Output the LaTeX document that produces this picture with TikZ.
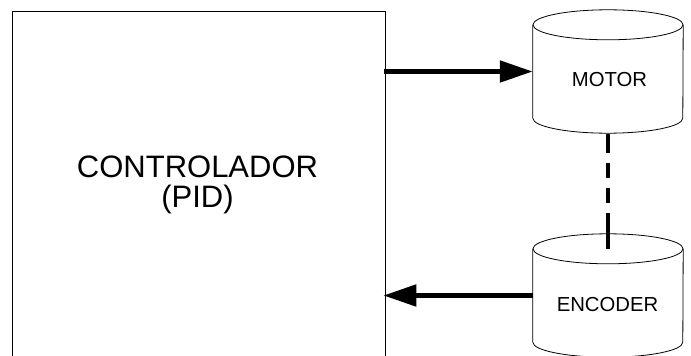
\documentclass[tikz,border=0pt]{standalone}
\usepackage{fontspec}
\setmainfont{Liberation Sans}
\usetikzlibrary{arrows.meta}
\begin{document}
\begin{tikzpicture}[x=1pt,y=-1pt,
  body/.style={draw=none, minimum width=150pt, minimum height=93pt, inner sep=0pt},
  cyl/.style={draw=black, line width=0.8pt, fill=white},
  flow/.style={line width=5pt, -{Triangle[length=33pt,width=21pt]}},
  link/.style={line width=4pt, dash pattern=on 19pt off 10pt on 15pt off 10pt on 15pt off 10pt on 40pt off 10pt},
  bigtext/.style={font=\fontsize{31}{29.5}\selectfont, inner sep=0pt},
  smalltext/.style={font=\fontsize{20.3}{24}\selectfont, inner sep=0pt}]
\clip (0,0) rectangle (691,356);
\fill[white] (0,0) rectangle (691,356);
% controller box (bottom edge lies below the picture)
\node[draw, line width=0.8pt, minimum width=372.5pt, minimum height=380pt, anchor=north west, inner sep=0pt] (ctrl) at (12,10.5) {};
\node[bigtext, anchor=base] (ctrlA) at (197.5,177) {CONTROLADOR};
\node[bigtext, anchor=base] (ctrlB) at (197.5,207) {(PID)};
% motor cylinder
\node[body] (motor) at (608,71.5) {};
\draw[cyl] (motor.north west) -- (motor.south west) arc[start angle=180, end angle=360, x radius=75pt, y radius=15pt] -- (motor.north east);
\draw[cyl] (motor.north) ellipse[x radius=75pt, y radius=15pt];
\node[smalltext, anchor=base] (motorlbl) at (609.5,86.5) {MOTOR};
% encoder cylinder
\node[body] (encoder) at (608,295.5) {};
\draw[cyl] (encoder.north west) -- (encoder.south west) arc[start angle=180, end angle=360, x radius=75pt, y radius=15pt] -- (encoder.north east);
\draw[cyl] (encoder.north) ellipse[x radius=75pt, y radius=15pt];
\node[smalltext, anchor=base] (enclbl) at (607.5,311.5) {ENCODER};
% connectors
\draw[flow] ([xshift=-1pt]ctrl.east |- motor.west) -- (motor.west);
\draw[flow, shorten >=-2pt] (encoder.west) -- (ctrl.east |- encoder.west);
\draw[link] ([yshift=-16pt]motor.south) -- (encoder.north);
\end{tikzpicture}
\end{document}
